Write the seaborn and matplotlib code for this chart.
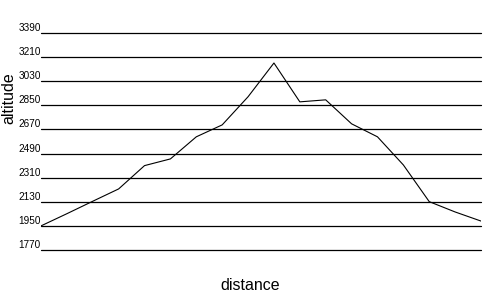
import matplotlib
matplotlib.use("Agg")
import matplotlib.pyplot as plt
import seaborn as sns
import pandas as pd

distance = list(range(18))
altitude = [1950, 2041, 2134, 2226, 2400, 2450, 2615, 2704, 2914, 3166,
            2876, 2891, 2712, 2615, 2405, 2131, 2054, 1986]
y_ticks = [1770, 1950, 2130, 2310, 2490, 2670, 2850, 3030, 3210, 3390]

sns.set_style("white")
plt.rcParams['font.family'] = ['Liberation Sans', 'DejaVu Sans']

df = pd.DataFrame({"distance": distance, "altitude": altitude})

fig = plt.figure(figsize=(5, 3), dpi=100)
ax = fig.add_axes([41/500, 50/300, 440/500, 217/300])
for t in y_ticks:
    ax.axhline(t, color="black", linewidth=0.9, zorder=1, clip_on=False)
sns.lineplot(data=df, x="distance", y="altitude", ax=ax, color="black",
             linewidth=0.8, zorder=2)
ax.set_xlim(0, 17)
ax.set_ylim(1770, 3390)
ax.set_yticks(y_ticks)
ax.set_yticklabels([str(t) for t in y_ticks], fontsize=7.2, va="bottom", color="black")
ax.tick_params(axis="y", length=0, pad=0)
ax.set_xticks([])
for s in ax.spines.values():
    s.set_visible(False)
ax.set_xlabel("")
ax.set_ylabel("")
fig.text(250/500, 1 - 285/300, "distance", ha="center", va="center", fontsize=11.5, color="black")
fig.text(9/500, 1 - 98/300, "altitude", ha="center", va="center", rotation=90, fontsize=11.5, color="black")
fig.savefig("out.png", dpi=100, facecolor="white")
